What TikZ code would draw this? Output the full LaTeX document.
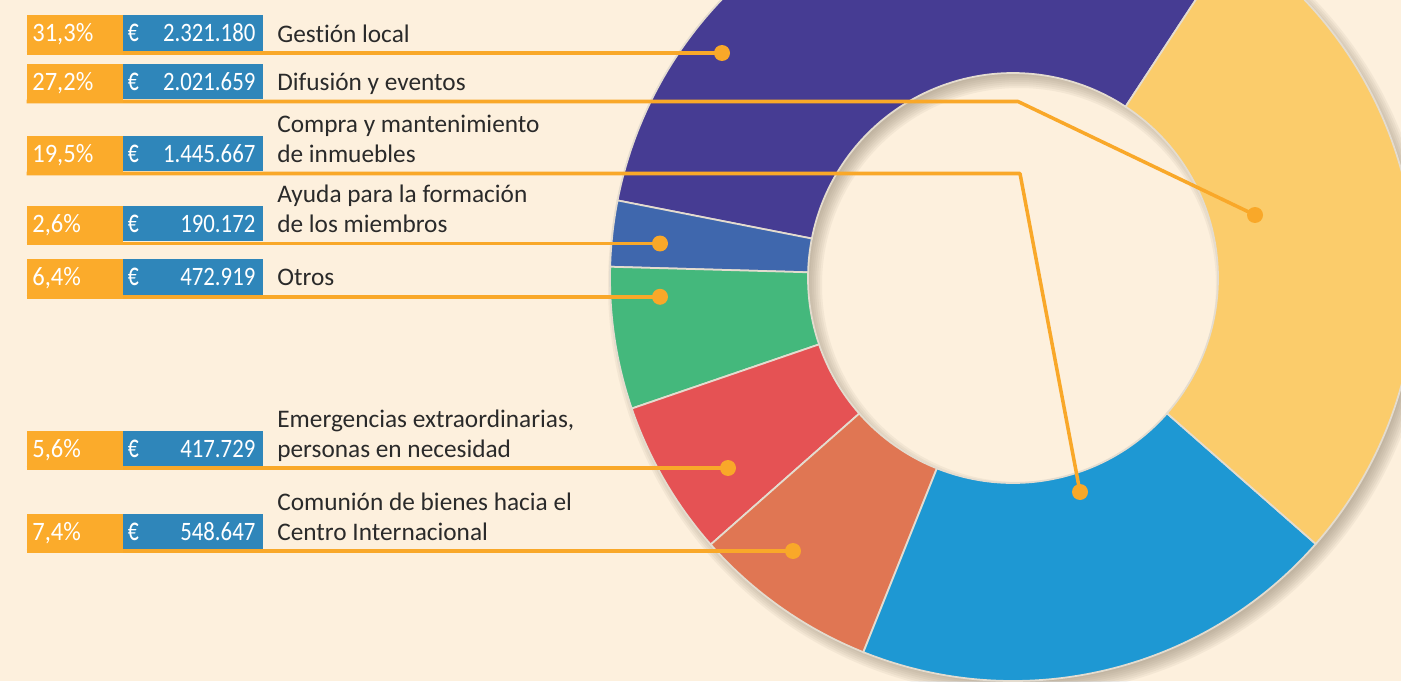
\documentclass[tikz,border=0pt]{standalone}
\usepackage{fontspec}
\setmainfont{Carlito}[Ligatures=NoCommon]
\usetikzlibrary{calc}
\definecolor{bg}{HTML}{FDF0DD}
\definecolor{tagor}{HTML}{FBAB2B}
\definecolor{tagbl}{HTML}{2F86BA}
\definecolor{lineor}{HTML}{F9A829}
\definecolor{txt}{HTML}{2A2A2A}
\definecolor{cpurple}{HTML}{463C93}
\definecolor{cyellow}{HTML}{FBCC6B}
\definecolor{cblue}{HTML}{1E98D3}
\definecolor{corange}{HTML}{E07653}
\definecolor{cred}{HTML}{E55254}
\definecolor{cgreen}{HTML}{44B87C}
\definecolor{cdblue}{HTML}{3F67AD}
\definecolor{sepc}{HTML}{E4DCCF}
\definecolor{shad}{HTML}{8F826E}
\newcommand\seg[3]{%
  \fill[#1, draw=sepc, line width=1pt, shift={(1013,403)}]
    (#2:403) arc[start angle=#2, end angle=#3, radius=403]
    -- (#3:205) arc[start angle=#3, end angle=#2, radius=205] -- cycle;}
\newcommand\twoline[2]{\begin{tabular}[b]{@{}l@{}}#1\\#2\end{tabular}}
\newcommand\tagrow[5]{%
  \node[pctbox, anchor=north west] (p#1) at (26.7,#2) {};
  \node[amtbox, anchor=north west] (a#1) at (122.7,#2) {};
  \node[tagtxt, anchor=base west] (pt#1) at (32,#2-26.5) {\scalebox{0.97}[1.05]{#3}};
  \node[tagtxt, anchor=base west] (eu#1) at (127.5,#2-26.5) {\scalebox{0.85}[1.3]{€}};
  \node[tagtxt, anchor=base east] (am#1) at (255.7,#2-26.5) {\scalebox{0.9}[1.05]{#4}};
  \node[labtxt, anchor=base west] (l#1) at (277,#2-26.5) {#5};
}
\begin{document}
\begin{tikzpicture}[x=0.02cm, y=0.02cm,
  pctbox/.style={fill=tagor, minimum width=1.92cm, minimum height=0.79cm, inner sep=0pt, outer sep=0pt},
  amtbox/.style={fill=tagbl, minimum width=2.8cm, minimum height=0.71cm, inner sep=0pt, outer sep=0pt},
  tagtxt/.style={text=white, font=\fontsize{14.4}{16.8}\selectfont, inner sep=0pt},
  labtxt/.style={text=txt, font=\fontsize{14.4}{16.8}\selectfont, inner sep=0pt},
  conn/.style={draw=lineor, line width=2pt, line join=round},
  dot/.style={circle, fill=lineor, minimum size=0.32cm, inner sep=0pt}]
\useasboundingbox (0,0) rectangle (1401,681);
\clip (0,0) rectangle (1401,681);
\fill[bg] (0,0) rectangle (1401,681);
% shadow of the ring
\foreach \k in {0,...,7}{
  \fill[shad, opacity=0.085, even odd rule, shift={(1019,396)}]
    (0,0) circle[radius={411-2*\k}] (0,0) circle[radius={197+2*\k}];
}
% ring segments
\seg{cpurple}{56.7}{168.9}
\seg{cdblue}{168.9}{178.4}
\seg{cgreen}{178.4}{198.9}
\seg{cred}{198.9}{221.4}
\seg{corange}{221.4}{248.2}
\seg{cblue}{248.2}{318.7}
\seg{cyellow}{318.7}{416.7}
% dots
\node[dot] (d1) at (722,628) {};
\node[dot] (d2) at (1255,466) {};
\node[dot] (d3) at (1080,189) {};
\node[dot] (d4) at (660,437.5) {};
\node[dot] (d5) at (660,384.2) {};
\node[dot] (d6) at (728,213) {};
\node[dot] (d7) at (793,130) {};
% connector start points and bends
\coordinate (s1) at (26.7,628);
\coordinate (s2) at (26.7,579.5);
\coordinate (s3) at (26.7,507.5);
\coordinate (s4) at (26.7,437.5);
\coordinate (s5) at (26.7,384.2);
\coordinate (s6) at (26.7,213);
\coordinate (s7) at (26.7,130);
\coordinate (k2) at (1018,579.5);
\coordinate (k3) at (1020,507.5);
\draw[conn] (s1) -- (d1.center);
\draw[conn] (s2) -- (k2) -- (d2.center);
\draw[conn] (s3) -- (k3) -- (d3.center);
\draw[conn] (s4) -- (d4.center);
\draw[conn] (s5) -- (d5.center);
\draw[conn] (s6) -- (d6.center);
\draw[conn] (s7) -- (d7.center);
% tag rows
\tagrow{1}{665.5}{31,3\%}{2.321.180}{Gestión local}
\tagrow{2}{617}{27,2\%}{2.021.659}{Difusión y eventos}
\tagrow{3}{545}{19,5\%}{1.445.667}{\twoline{Compra y mantenimiento}{de inmuebles}}
\tagrow{4}{475}{2,6\%}{190.172}{\twoline{Ayuda para la formación}{de los miembros}}
\tagrow{5}{421.7}{6,4\%}{472.919}{Otros}
\tagrow{6}{250.5}{5,6\%}{417.729}{\twoline{Emergencias extraordinarias,}{personas en necesidad}}
\tagrow{7}{167.5}{7,4\%}{548.647}{\twoline{Comunión de bienes hacia el}{Centro Internacional}}
\end{tikzpicture}
\end{document}
